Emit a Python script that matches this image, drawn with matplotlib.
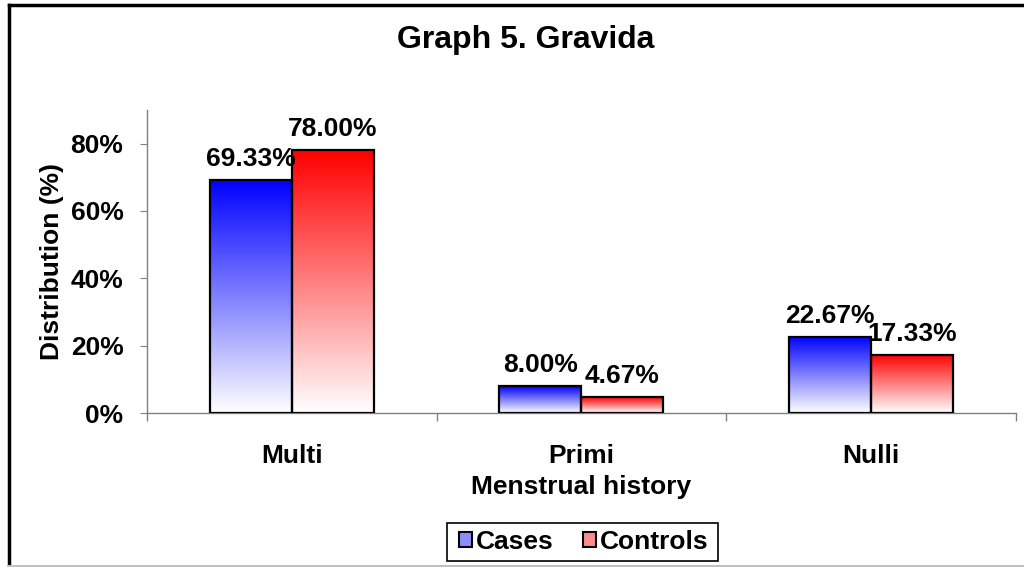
import matplotlib
matplotlib.use('Agg')
import matplotlib.pyplot as plt
import numpy as np
from matplotlib.colors import LinearSegmentedColormap
from matplotlib.patches import Patch, Rectangle
from matplotlib.lines import Line2D

plt.rcParams['font.family'] = ['Liberation Sans', 'DejaVu Sans']
plt.rcParams['font.weight'] = 'bold'

categories = ['Multi', 'Primi', 'Nulli']
cases = [69.33, 8.00, 22.67]
controls = [78.00, 4.67, 17.33]
series_names = ['Cases', 'Controls']
y_ticks = [0, 20, 40, 60, 80]

FS = 19
W = 0.283
grad = np.linspace(0, 1, 256).reshape(-1, 1)  # 0 at bottom -> 1 at top
cm_blue = LinearSegmentedColormap.from_list('b', ['#ffffff', '#0000ff'])
cm_red = LinearSegmentedColormap.from_list('r', ['#ffffff', '#ff0000'])

fig = plt.figure(figsize=(10.24, 5.67), dpi=100)
ax = fig.add_axes([0.1436, 0.2716, 0.8484, 0.5344])

x = np.arange(len(categories))


def gradient_bars(xpos, vals, cmap):
    bars = ax.bar(xpos, vals, W, facecolor='none', edgecolor='black', linewidth=1.6, zorder=3)
    for b in bars:
        x0, y0 = b.get_x(), b.get_y()
        im = ax.imshow(grad, cmap=cmap, origin='lower', aspect='auto',
                       extent=(x0, x0 + b.get_width(), y0, y0 + b.get_height()), zorder=2)
        im.set_clip_path(b)
    for xi, v in zip(xpos, vals):
        ax.annotate(f'{v:.2f}%', (xi, v), xytext=(0, 6.5), textcoords='offset points',
                    ha='center', va='bottom', fontsize=FS, fontweight='bold')
    return bars


gradient_bars(x - W / 2, cases, cm_blue)
gradient_bars(x + W / 2, controls, cm_red)

ax.set_xlim(-0.5, 2.5)
ax.set_ylim(0, 90)
ax.set_yticks(y_ticks)
ax.set_yticklabels([f'{t}%' for t in y_ticks])
ax.set_xticks(x)
ax.set_xticklabels(categories)
ax.set_xticks([-0.5, 0.5, 1.5, 2.5], minor=True)
ax.tick_params(axis='x', which='major', length=0, labelsize=FS, pad=22.5)
ax.tick_params(axis='x', which='minor', length=6, color='#808080', width=1)
ax.tick_params(axis='y', length=5, color='#808080', labelsize=FS, pad=12)
for t in ax.get_xticklabels() + ax.get_yticklabels():
    t.set_fontweight('bold')

for s in ['top', 'right']:
    ax.spines[s].set_visible(False)
for s in ['left', 'bottom']:
    ax.spines[s].set_color('#808080')
    ax.spines[s].set_linewidth(1)

ax.set_xlabel('Menstrual history', fontsize=FS, fontweight='bold', labelpad=5)
ax.set_ylabel('Distribution (%)', fontsize=FS, fontweight='bold', labelpad=5)

fig.text(0.513, 0.929, 'Graph 5. Gravida', ha='center', va='center', fontsize=23, fontweight='bold')

# legend: own frame box, entries without frame
fig.add_artist(Rectangle((447 / 1024, 1 - 561 / 567), 271 / 1024, 38 / 567, transform=fig.transFigure,
                         facecolor='white', edgecolor='black', linewidth=1.2))
handles = [Patch(facecolor='#8c8cff', edgecolor='black', linewidth=1.5),
           Patch(facecolor='#ff8c8c', edgecolor='black', linewidth=1.5)]
leg = fig.legend(handles, series_names, loc='center', bbox_to_anchor=(584 / 1024, 1 - 542 / 567),
                 ncol=2, frameon=False, fontsize=FS, handlelength=0.5,
                 handleheight=0.5, handletextpad=0.15, columnspacing=1.1, borderpad=0.2)
for t in leg.get_texts():
    t.set_fontweight('bold')

# outer chart frame
fig.add_artist(Line2D([0.0088, 0.0088], [0.0, 0.991], color='black', lw=2.5, transform=fig.transFigure))
fig.add_artist(Line2D([0.0088, 1.0], [0.991, 0.991], color='black', lw=2.5, transform=fig.transFigure))
fig.add_artist(Line2D([0.0088, 1.0], [0.001, 0.001], color='#c0c0c0', lw=1.5, transform=fig.transFigure))

fig.savefig('out.png', dpi=100)
